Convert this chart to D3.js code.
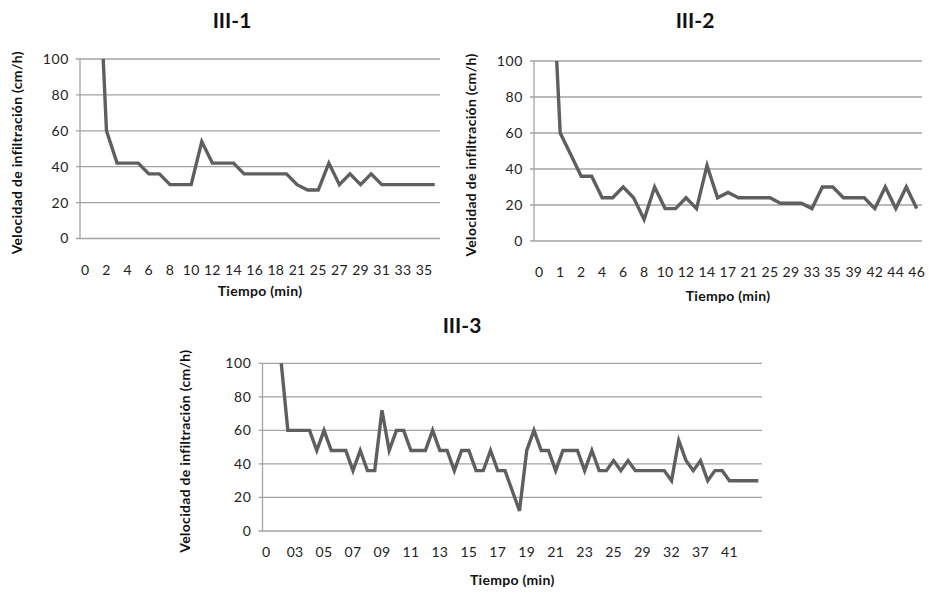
<!DOCTYPE html>
<html>
<head>
<meta charset="utf-8">
<script src="https://cdn.jsdelivr.net/npm/d3@7/dist/d3.min.js"></script>
<style>
  html, body { margin: 0; padding: 0; background: #fff; }
  svg { display: block; font-family: Lato, "Open Sans", sans-serif; }
</style>
</head>
<body>
<svg id="chart" width="929" height="595"></svg>
<script>
// Infiltration rate (cm/h) per reading; readings above 100 run off the top of the plot.
const values1 = [null, 190, 60, 42, 42, 42, 36, 36, 30, 30, 30, 54, 42, 42, 42, 36, 36, 36,
  36, 36, 30, 27, 27, 42, 30, 36, 30, 36, 30, 30, 30, 30, 30, 30];
const ticks1 = ["0", "2", "4", "6", "8", "10", "12", "14", "16", "18", "21", "25", "27",
  "29", "31", "33", "35"];

const values2 = [null, 180, 60, 48, 36, 36, 24, 24, 30, 24, 12, 30, 18, 18, 24, 18, 42, 24,
  27, 24, 24, 24, 24, 21, 21, 21, 18, 30, 30, 24, 24, 24, 18, 30, 18, 30, 18];
const ticks2 = ["0", "1", "2", "4", "6", "8", "10", "12", "14", "17", "21", "25", "29",
  "33", "35", "39", "42", "44", "46"];

const values3 = [null, null, 104, 60, 60, 60, 60, 48, 60, 48, 48, 48, 36, 48, 36, 36, 72, 48,
  60, 60, 48, 48, 48, 60, 48, 48, 36, 48, 48, 36, 36, 48, 36, 36, 24, 12, 48, 60, 48, 48,
  36, 48, 48, 48, 36, 48, 36, 36, 42, 36, 42, 36, 36, 36, 36, 36, 30, 54, 42, 36, 42, 30,
  36, 36, 30, 30, 30, 30, 30];
const ticks3 = ["0", "03", "05", "07", "09", "11", "13", "15", "17", "19", "21", "23", "25",
  "29", "32", "37", "41"];

const yTicks = [0, 20, 40, 60, 80, 100];
const yTitle = "Velocidad de infiltración  (cm/h)";
const xTitle = "Tiempo (min)";

const svg = d3.select("#chart");
const gridColor = "#a3a3a3";
const lineColor = "#5f5f5f";
const tickFont = 14;
const axisTitleFont = 14;

function drawPanel(opt) {
  const { id, title, values, ticks, step, left, right, top, bottom, titleX, titleY,
          yTitleX, xTitleY, tickY } = opt;

  const x = d3.scaleBand().domain(d3.range(values.length)).range([left, right]).padding(0);
  const y = d3.scaleLinear().domain([0, 100]).range([bottom, top]);
  const cx = i => x(i) + x.bandwidth() / 2;

  const g = svg.append("g");

  // horizontal gridlines (the 0 line doubles as the category axis)
  g.selectAll("line.grid").data(yTicks).join("line")
    .attr("x1", left - 4).attr("x2", right)
    .attr("y1", d => y(d)).attr("y2", d => y(d))
    .attr("stroke", gridColor).attr("stroke-width", 1.3);

  // value axis line
  g.append("line")
    .attr("x1", left).attr("x2", left).attr("y1", top).attr("y2", bottom)
    .attr("stroke", gridColor).attr("stroke-width", 1.3);

  // value tick labels
  g.selectAll("text.yt").data(yTicks).join("text")
    .attr("x", left - 11).attr("y", d => y(d))
    .attr("dy", "0.35em").attr("text-anchor", "end")
    .attr("font-size", tickFont).attr("fill", "#222")
    .attr("letter-spacing", 0.6)
    .text(d => d);

  // category labels, every `step` categories
  const labelled = d3.range(0, values.length, step).slice(0, ticks.length);
  g.selectAll("text.xt").data(labelled).join("text")
    .attr("x", d => cx(d)).attr("y", tickY)
    .attr("text-anchor", "middle")
    .attr("font-size", tickFont).attr("fill", "#222")
    .attr("letter-spacing", 0.3)
    .text((d, i) => ticks[i]);

  // clip to plot area so readings above 100 are cut at the top
  svg.append("clipPath").attr("id", "clip" + id)
    .append("rect").attr("x", left).attr("y", top)
    .attr("width", right - left).attr("height", bottom - top);

  const line = d3.line()
    .defined(d => d != null)
    .x((d, i) => cx(i))
    .y(d => y(d));

  g.append("path")
    .datum(values)
    .attr("clip-path", `url(#clip${id})`)
    .attr("d", line)
    .attr("fill", "none")
    .attr("stroke", lineColor)
    .attr("stroke-width", 3.4)
    .attr("stroke-linejoin", "miter");

  // titles
  g.append("text")
    .attr("x", titleX).attr("y", titleY)
    .attr("text-anchor", "middle").attr("font-size", 21).attr("font-weight", "bold")
    .attr("fill", "#111")
    .text(title);

  g.append("text")
    .attr("x", (left + right) / 2).attr("y", xTitleY)
    .attr("text-anchor", "middle").attr("font-size", axisTitleFont).attr("font-weight", "bold")
    .attr("fill", "#111").attr("letter-spacing", 0.3)
    .text(xTitle);

  g.append("text")
    .attr("transform", `translate(${yTitleX},${(top + bottom) / 2 + 4}) rotate(-90)`)
    .attr("text-anchor", "middle").attr("font-size", axisTitleFont).attr("font-weight", "bold")
    .attr("fill", "#111").attr("letter-spacing", 0.3)
    .text(yTitle);
}

drawPanel({ id: 1, title: "III-1", values: values1, ticks: ticks1, step: 2,
  left: 80, right: 440, top: 59, bottom: 238.5,
  titleX: 232, titleY: 28, yTitleX: 22, xTitleY: 296, tickY: 275 });

drawPanel({ id: 2, title: "III-2", values: values2, ticks: ticks2, step: 2,
  left: 534, right: 922, top: 61, bottom: 241,
  titleX: 695, titleY: 28, yTitleX: 476, xTitleY: 301, tickY: 277 });

drawPanel({ id: 3, title: "III-3", values: values3, ticks: ticks3, step: 4,
  left: 262.5, right: 762, top: 363.3, bottom: 531,
  titleX: 462, titleY: 333, yTitleX: 190, xTitleY: 585, tickY: 557 });
</script>
</body>
</html>
